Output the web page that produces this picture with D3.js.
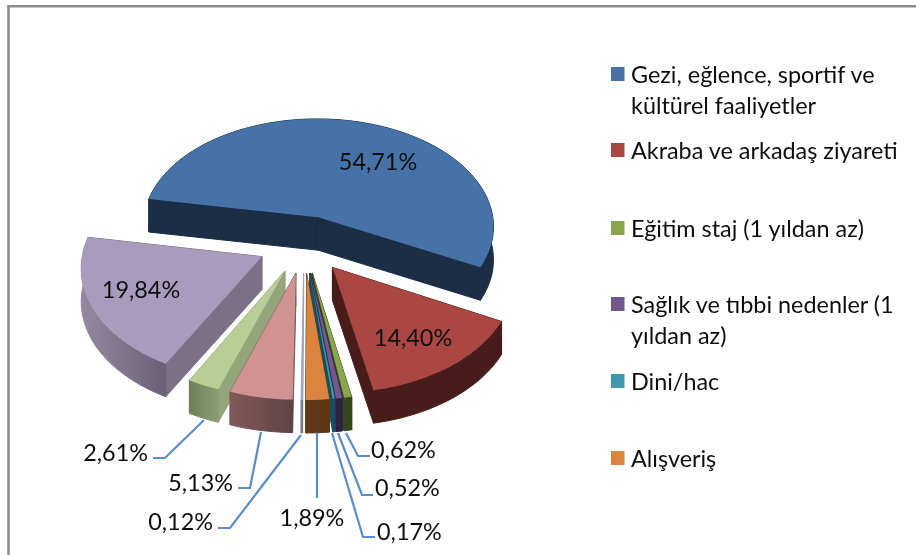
<!DOCTYPE html>
<html><head><meta charset="utf-8">
<script src="https://cdn.jsdelivr.net/npm/d3@7"></script>
<style>html,body{margin:0;padding:0;background:#fff;overflow:hidden}svg{display:block}</style>
</head><body><div id="c"></div>
<script>
const categories=["Gezi, eğlence, sportif ve kültürel faaliyetler","Akraba ve arkadaş ziyareti","Eğitim staj (1 yıldan az)","Sağlık ve tıbbi nedenler (1 yıldan az)","Dini/hac","Alışveriş","Diğer 1","Diğer 2","Diğer 3","Diğer 4"];
const values=[54.71,14.40,0.62,0.52,0.17,1.89,0.12,5.13,2.61,19.84];
const valueLabels=["54,71%","14,40%","0,62%","0,52%","0,17%","1,89%","0,12%","5,13%","2,61%","19,84%"];
const topColors=["#4672a8","#aa4643","#89a54e","#71588f","#4198af","#db843d","#93a9cf","#d19392","#b9cd96","#a99bbd"];
const wallLeft=["#1b2d45","#4a1b1a","#36451d","#2f2340","#15505e","#643a18","#8a94a6","#80595a","#6f7f58","#94899f"];
const wallRight=["#1b2d45","#4a1b1a","#36451d","#2f2340","#15505e","#5e3618","#6a7080","#5f4345","#8c9c72","#6b6078"];
const rayWall=["#1b2d45","#4a1b1a","#36451d","#2f2340","#15505e","#643a18","#9aa6bd","#7d5d5d","#93a579","#7c7088"];
const legendRows=[[0,["Gezi, eğlence, sportif ve","kültürel faaliyetler"]],[1,["Akraba ve arkadaş ziyareti"]],[2,["Eğitim staj (1 yıldan az)"]],[3,["Sağlık ve tıbbi nedenler (1","yıldan az)"]],[4,["Dini/hac"]],[5,["Alışveriş"]]];

const W=916,H=555,FONT="Lato, 'Open Sans', sans-serif";
const cx=304,cy=244,rx=178,ry=110.8,persp=0.0836,explode=0.26,depth=33;
const legendY=[74,150,228,304,381,458];
const inside={0:[378,161],1:[413,337],9:[141,289]};
const outside={
 2:{text:[371,449,"start"],path:[[346,433],[358,456],[370,456]]},
 3:{text:[375,487,"start"],path:[[338,433],[362,495],[373,495]]},
 4:{text:[377,531,"start"],path:[[332,433],[363,537],[375,537]]},
 5:{text:[312,517,"middle"],path:[[317,433],[317,498]]},
 6:{text:[213,521,"end"],path:[[301,435],[230,528],[218,528]]},
 7:{text:[233,482,"end"],path:[[261,432],[250,488],[238,488]]},
 8:{text:[148,452,"end"],path:[[204,420],[165,458],[153,458]]}
};

const svg=d3.select("#c").append("svg").attr("width",W).attr("height",H);
svg.append("rect").attr("width",W).attr("height",H).attr("fill","#fff");
svg.append("path").attr("d",d3.line()([[8.5,H],[8.5,6.3],[W,6.3]])).attr("fill","none").attr("stroke","#8c8c8c").attr("stroke-width",2.6);

const defs=svg.append("defs");
defs.append("filter").attr("id","soft").append("feGaussianBlur").attr("stdDeviation",0.4);
const g=svg.append("g").attr("filter","url(#soft)");

const START=280*Math.PI/180;
const arcs=d3.pie().sort(null).value(d=>d).startAngle(START).endAngle(START+2*Math.PI)(values);
function project(u,v){const s=1-persp*v;return [cx+rx*u/s,cy+ry*v/s];}
function pt(a,r,m){return project(explode*Math.sin(m)+r*Math.sin(a),-explode*Math.cos(m)-r*Math.cos(a));}
const line=d3.line();
const down=p=>[p[0],p[1]+depth];

const slices=arcs.map((a,i)=>{
  const m=(a.startAngle+a.endAngle)/2;
  const n=Math.max(2,Math.ceil((a.endAngle-a.startAngle)/0.03));
  const rim=d3.range(n+1).map(k=>pt(a.startAngle+(a.endAngle-a.startAngle)*k/n,1,m));
  const apex=pt(0,0,m);
  return {i,a,m,rim,apex,sortY:-Math.cos(m)};
});
const order=slices.slice().sort((p,q)=>p.sortY-q.sortY);
order.forEach(s=>{
  const c=s.i;
  const grad=defs.append("linearGradient").attr("id","w"+c).attr("gradientUnits","userSpaceOnUse")
    .attr("x1",d3.min(s.rim,d=>d[0])).attr("x2",d3.max(s.rim,d=>d[0])).attr("y1",0).attr("y2",0);
  grad.append("stop").attr("offset",0).attr("stop-color",wallLeft[c]);
  grad.append("stop").attr("offset",1).attr("stop-color",wallRight[c]);
  const first=s.rim[0],last=s.rim[s.rim.length-1];
  [first,last].forEach(e=>{
    g.append("path").attr("d",line([s.apex,e,down(e),down(s.apex)])+"Z").attr("fill",rayWall[c]).attr("stroke",rayWall[c]).attr("stroke-width",1);
  });
  g.append("path").attr("d",line(s.rim.concat(s.rim.slice().reverse().map(down)))+"Z").attr("fill",`url(#w${c})`).attr("stroke",`url(#w${c})`).attr("stroke-width",1);
  g.append("path").attr("d",line([s.apex].concat(s.rim))+"Z").attr("fill",topColors[c]);
});

const txt=(x,y,t,anchor)=>g.append("text").attr("x",x).attr("y",y).attr("text-anchor",anchor||"start")
  .attr("dominant-baseline","central").attr("font-family",FONT).attr("font-size",23.4).attr("fill","#111").text(t);

Object.entries(inside).forEach(([i,p])=>txt(p[0],p[1],valueLabels[i],"middle"));
Object.entries(outside).forEach(([i,o])=>{
  g.append("path").attr("d",line(o.path)).attr("fill","none").attr("stroke","#5a8dc8").attr("stroke-width",2.2);
  txt(o.text[0],o.text[1],valueLabels[i],o.text[2]);
});

legendRows.forEach(([i,lines],r)=>{
  const y=legendY[r];
  g.append("rect").attr("x",611).attr("y",y-7).attr("width",13.5).attr("height",14).attr("fill",topColors[i]);
  lines.forEach((t,k)=>txt(631,y+k*30.5,t));
});
</script></body></html>
